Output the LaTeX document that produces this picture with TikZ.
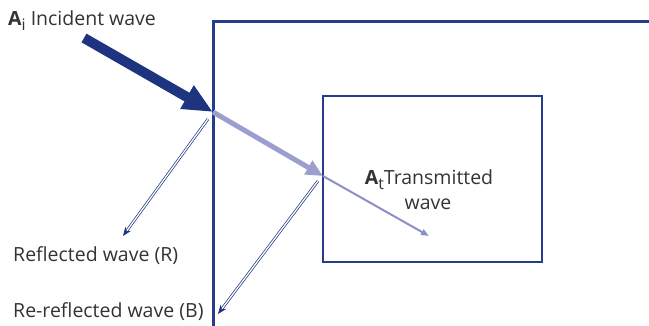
\documentclass[tikz,border=0pt]{standalone}
\usepackage{fontspec}
\setmainfont{Open Sans}
\usetikzlibrary{arrows.meta}
\definecolor{navy}{RGB}{30,52,128}
\definecolor{boxnavy}{RGB}{40,60,140}
\definecolor{lightwave}{RGB}{156,158,208}
\definecolor{thinwave}{RGB}{140,143,200}
\definecolor{txt}{RGB}{51,51,51}
\tikzset{
  lbl/.style={inner sep=0pt, text=txt, font=\fontsize{19.5}{24}\selectfont},
  incident/.style={draw=navy, line width=10pt, -{Triangle[length=30pt,width=25pt]}},
  transthick/.style={draw=lightwave, line width=5pt, -{Triangle[length=17pt,width=15pt]}},
  transthin/.style={draw=thinwave, line width=2pt, -{Triangle[length=8pt,width=6pt]}},
  reflect/.style={draw=navy, double=white, line width=0.7pt, double distance=1.3pt, -{Stealth[length=9pt,width=7pt]}},
}
\newcommand{\subtxt}[1]{\raisebox{-0.45ex}{\fontsize{16}{18}\selectfont #1}}
\begin{document}
\begin{tikzpicture}[x=1pt,y=-1pt]
\useasboundingbox (0,0) rectangle (649,326);
% outer medium
\draw[boxnavy, line width=3pt] (649,22) -- (213,22) -- (213,326);
% inner box
\draw[boxnavy, line width=1.4pt] (323,96) rectangle (542,262);
% coordinates
\coordinate (is) at (84,38);
\coordinate (p1) at (213,112);
\coordinate (p2) at (323,176);
\coordinate (tt) at (429,236);
\coordinate (r1s) at (208,119);
\coordinate (r1e) at (123,236);
\coordinate (r2s) at (318,181);
\coordinate (r2e) at (218,314);
% waves
\draw[transthin] (p2) -- (tt);
\draw[transthick] (p1) -- (p2);
\draw[incident] (is) -- (p1);
\draw[reflect] (r1s) -- (r1e);
\draw[reflect] (r2s) -- (r2e);
% labels
\node[lbl, anchor=base west] (inc) at (8,26) {{\bfseries A}\subtxt{i} Incident wave};
\node[lbl, anchor=base] (trans) at (429,185) {{\bfseries A}\subtxt{t}Transmitted};
\node[lbl, anchor=base] (trans2) at (428,210) {wave};
\node[lbl, anchor=base west] (refl) at (13,262) {Reflected wave (R)};
\node[lbl, anchor=base west] (rerefl) at (13,318) {Re-reflected wave (B)};
\end{tikzpicture}
\end{document}
